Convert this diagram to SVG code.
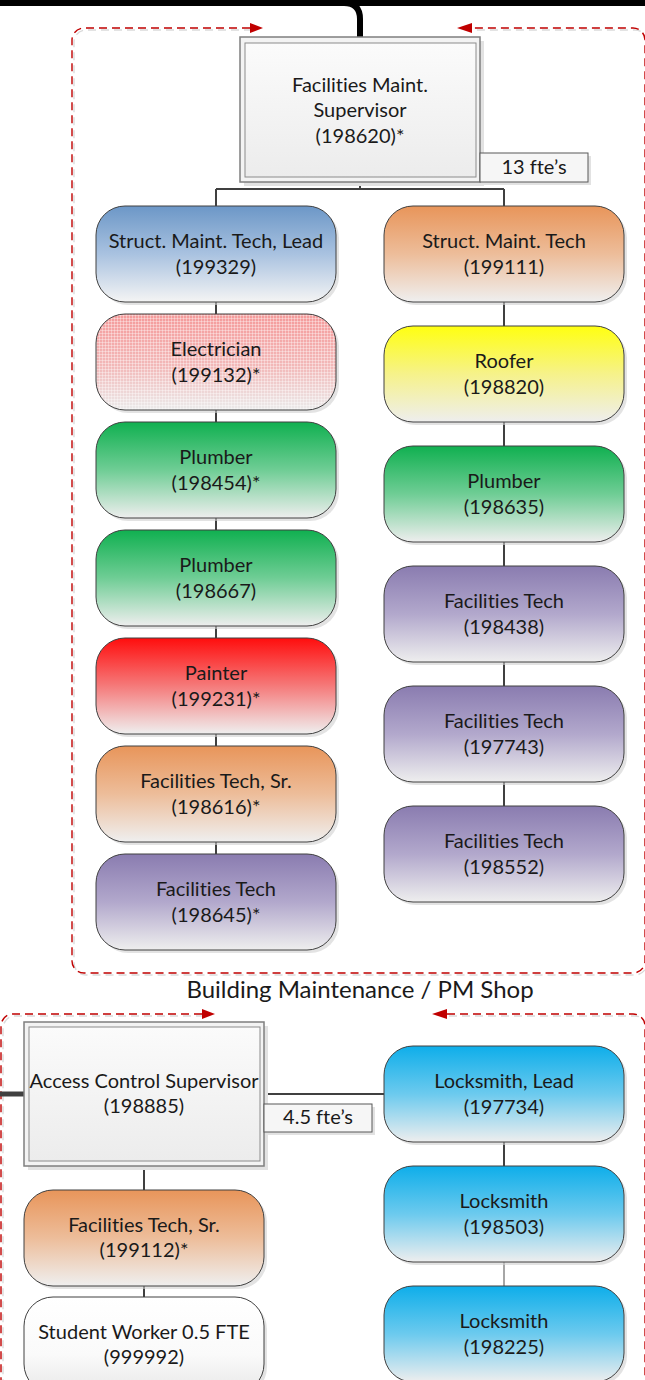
<svg xmlns="http://www.w3.org/2000/svg" width="645" height="1380" viewBox="0 0 645 1380">
  <defs>
    <linearGradient id="gBlue" x1="0" y1="0" x2="0" y2="1">
      <stop offset="0" stop-color="#6C97C7"/>
      <stop offset="0.5" stop-color="#A9C2E0"/>
      <stop offset="1" stop-color="#F4F4F4"/>
    </linearGradient>
    <linearGradient id="gPink" x1="0" y1="0" x2="0" y2="1">
      <stop offset="0" stop-color="#F59A9A"/>
      <stop offset="0.55" stop-color="#F2B9B9"/>
      <stop offset="1" stop-color="#EBEBEB"/>
    </linearGradient>
    <pattern id="pDots" width="3" height="3" patternUnits="userSpaceOnUse">
      <rect x="0" y="0" width="3" height="1" fill="#FFFFFF" fill-opacity="0.35"/>
      <rect x="0" y="0" width="1" height="3" fill="#FFFFFF" fill-opacity="0.35"/>
    </pattern>
    <linearGradient id="gGreen" x1="0" y1="0" x2="0" y2="1">
      <stop offset="0" stop-color="#10B050"/>
      <stop offset="0.5" stop-color="#6FCD95"/>
      <stop offset="1" stop-color="#EEEEEE"/>
    </linearGradient>
    <linearGradient id="gRed" x1="0" y1="0" x2="0" y2="1">
      <stop offset="0" stop-color="#FF0D0D"/>
      <stop offset="0.5" stop-color="#F57A7A"/>
      <stop offset="1" stop-color="#EFEFEF"/>
    </linearGradient>
    <linearGradient id="gOrange" x1="0" y1="0" x2="0" y2="1">
      <stop offset="0" stop-color="#E8955A"/>
      <stop offset="0.5" stop-color="#EDBD9A"/>
      <stop offset="1" stop-color="#EFEFEF"/>
    </linearGradient>
    <linearGradient id="gPurple" x1="0" y1="0" x2="0" y2="1">
      <stop offset="0" stop-color="#8A7CB0"/>
      <stop offset="0.5" stop-color="#B2A8CC"/>
      <stop offset="1" stop-color="#EEEEEE"/>
    </linearGradient>
    <linearGradient id="gYellow" x1="0" y1="0" x2="0" y2="1">
      <stop offset="0" stop-color="#FFFF10"/>
      <stop offset="0.5" stop-color="#F6F28A"/>
      <stop offset="1" stop-color="#EEEEEE"/>
    </linearGradient>
    <linearGradient id="gCyan" x1="0" y1="0" x2="0" y2="1">
      <stop offset="0" stop-color="#0EAEEA"/>
      <stop offset="0.5" stop-color="#6CCAEE"/>
      <stop offset="1" stop-color="#EEEEEE"/>
    </linearGradient>
    <linearGradient id="gWhite" x1="0" y1="0" x2="0" y2="1">
      <stop offset="0" stop-color="#FFFFFF"/>
      <stop offset="0.6" stop-color="#FAFAFA"/>
      <stop offset="1" stop-color="#E8E8E8"/>
    </linearGradient>
    <linearGradient id="gBox" x1="0" y1="0" x2="0" y2="1">
      <stop offset="0" stop-color="#FBFBFB"/>
      <stop offset="1" stop-color="#ECECEC"/>
    </linearGradient>
    <style>
      text { font-family: "Lato", "Liberation Sans", sans-serif; font-size: 20px; fill: #1A1A1A; text-anchor: middle; font-variant-ligatures: none; }
      .node { stroke: #404040; stroke-width: 1; }
      .shadow { fill: #D0D0D0; fill-opacity: 0.6; }
      .outer { fill: #F3F3F3; stroke: #7F7F7F; stroke-width: 1.5; }
      .inner { fill: url(#gBox); stroke: #8C8C8C; stroke-width: 1; }
      .tag { fill: #F6F6F6; stroke: #595959; stroke-width: 1; }
      .link { stroke: #404040; stroke-width: 2; fill: none; }
      .frame { stroke: #C00000; stroke-width: 1.4; stroke-dasharray: 8 5; fill: none; }
      .frame-shade { stroke: #DADADA; stroke-width: 1.4; stroke-dasharray: 8 5; fill: none; }
      .head { fill: #C00000; }
    </style>
  </defs>

  <!-- dashed group frames -->
  <g id="frames">
    <path class="frame-shade" transform="translate(2,2)" d="M250,28 H84 A12,12 0 0 0 72,40 V961 A12,12 0 0 0 84,973 H633 A12,12 0 0 0 645,961 V40 A12,12 0 0 0 633,28 H472"/>
    <path class="frame" d="M250,28 H84 A12,12 0 0 0 72,40 V961 A12,12 0 0 0 84,973 H633 A12,12 0 0 0 645,961 V40 A12,12 0 0 0 633,28 H472"/>
    <path class="head" d="M250,23 L263,28 L250,33 Z"/>
    <path class="head" d="M472,23 L457,28 L472,33 Z"/>

    <path class="frame-shade" transform="translate(2,2)" d="M202,1014 H13 A12,12 0 0 0 1,1026 V1380 M447,1014 H633 A12,12 0 0 1 645,1026 V1380"/>
    <path class="frame" d="M202,1014 H13 A12,12 0 0 0 1,1026 V1380 M447,1014 H633 A12,12 0 0 1 645,1026 V1380"/>
    <path class="head" d="M202,1009 L215,1014 L202,1019 Z"/>
    <path class="head" d="M447,1009 L432,1014 L447,1019 Z"/>
  </g>

  <text id="frame-label" x="360" y="998" style="font-size:24px">Building Maintenance / PM Shop</text>

  <!-- connectors -->
  <g id="connectors">
    <path d="M0,3 H645 M344,3 Q360,3 360,19 V38" stroke="#000000" stroke-width="6" fill="none"/>
    <path class="link" d="M360,182 V189 M216,189 H504 M216,189 V206 M504,189 V206"/>
    <path class="link" d="M216,302 V314 M216,410 V422 M216,518 V530 M216,626 V638 M216,734 V746 M216,842 V854"/>
    <path class="link" d="M504,302 V326 M504,422 V446 M504,542 V566 M504,662 V686 M504,782 V806"/>
    <path d="M0,1094 H24" stroke="#404040" stroke-width="5" fill="none"/>
    <path class="link" d="M264,1094 H384 M144,1166 V1190 M144,1286 V1297 M504,1142 V1166"/>
    <path d="M504,1262 V1286" stroke="#A6A6A6" stroke-width="2" fill="none"/>
  </g>

  <!-- Facilities Maint. Supervisor -->
  <g id="n-198620">
    <rect x="244" y="41" width="240" height="145" fill="#E2E2E2"/>
    <rect class="outer" x="240" y="37" width="240" height="145"/>
    <rect class="inner" x="245" y="43" width="231" height="134"/>
    <text x="360" y="91.5">Facilities Maint.</text>
    <text x="360" y="117">Supervisor</text>
    <text x="360" y="142.5">(198620)*</text>
  </g>
  <g id="fte-13">
    <rect x="483" y="156" width="108" height="29" fill="#E2E2E2"/>
    <rect class="tag" x="480" y="153" width="108" height="29"/>
    <text x="534" y="174">13 fte’s</text>
  </g>

  <!-- left column -->
  <g id="n-199329">
    <rect class="shadow" x="99" y="209" width="240" height="96" rx="29"/>
    <rect class="node" x="96" y="206" width="240" height="96" rx="29" fill="url(#gBlue)"/>
    <text x="216" y="248">Struct. Maint. Tech, Lead</text>
    <text x="216" y="274">(199329)</text>
  </g>
  <g id="n-199132">
    <rect class="shadow" x="99" y="317" width="240" height="96" rx="29"/>
    <rect x="96" y="314" width="240" height="96" rx="29" fill="url(#gPink)"/>
    <rect class="node" x="96" y="314" width="240" height="96" rx="29" fill="url(#pDots)"/>
    <text x="216" y="356">Electrician</text>
    <text x="216" y="382">(199132)*</text>
  </g>
  <g id="n-198454">
    <rect class="shadow" x="99" y="425" width="240" height="96" rx="29"/>
    <rect class="node" x="96" y="422" width="240" height="96" rx="29" fill="url(#gGreen)"/>
    <text x="216" y="464">Plumber</text>
    <text x="216" y="490">(198454)*</text>
  </g>
  <g id="n-198667">
    <rect class="shadow" x="99" y="533" width="240" height="96" rx="29"/>
    <rect class="node" x="96" y="530" width="240" height="96" rx="29" fill="url(#gGreen)"/>
    <text x="216" y="572">Plumber</text>
    <text x="216" y="598">(198667)</text>
  </g>
  <g id="n-199231">
    <rect class="shadow" x="99" y="641" width="240" height="96" rx="29"/>
    <rect class="node" x="96" y="638" width="240" height="96" rx="29" fill="url(#gRed)"/>
    <text x="216" y="680">Painter</text>
    <text x="216" y="706">(199231)*</text>
  </g>
  <g id="n-198616">
    <rect class="shadow" x="99" y="749" width="240" height="96" rx="29"/>
    <rect class="node" x="96" y="746" width="240" height="96" rx="29" fill="url(#gOrange)"/>
    <text x="216" y="788">Facilities Tech, Sr.</text>
    <text x="216" y="814">(198616)*</text>
  </g>
  <g id="n-198645">
    <rect class="shadow" x="99" y="857" width="240" height="96" rx="29"/>
    <rect class="node" x="96" y="854" width="240" height="96" rx="29" fill="url(#gPurple)"/>
    <text x="216" y="896">Facilities Tech</text>
    <text x="216" y="922">(198645)*</text>
  </g>

  <!-- right column -->
  <g id="n-199111">
    <rect class="shadow" x="387" y="209" width="240" height="96" rx="29"/>
    <rect class="node" x="384" y="206" width="240" height="96" rx="29" fill="url(#gOrange)"/>
    <text x="504" y="248">Struct. Maint. Tech</text>
    <text x="504" y="274">(199111)</text>
  </g>
  <g id="n-198820">
    <rect class="shadow" x="387" y="329" width="240" height="96" rx="29"/>
    <rect class="node" x="384" y="326" width="240" height="96" rx="29" fill="url(#gYellow)"/>
    <text x="504" y="368">Roofer</text>
    <text x="504" y="394">(198820)</text>
  </g>
  <g id="n-198635">
    <rect class="shadow" x="387" y="449" width="240" height="96" rx="29"/>
    <rect class="node" x="384" y="446" width="240" height="96" rx="29" fill="url(#gGreen)"/>
    <text x="504" y="488">Plumber</text>
    <text x="504" y="514">(198635)</text>
  </g>
  <g id="n-198438">
    <rect class="shadow" x="387" y="569" width="240" height="96" rx="29"/>
    <rect class="node" x="384" y="566" width="240" height="96" rx="29" fill="url(#gPurple)"/>
    <text x="504" y="608">Facilities Tech</text>
    <text x="504" y="634">(198438)</text>
  </g>
  <g id="n-197743">
    <rect class="shadow" x="387" y="689" width="240" height="96" rx="29"/>
    <rect class="node" x="384" y="686" width="240" height="96" rx="29" fill="url(#gPurple)"/>
    <text x="504" y="728">Facilities Tech</text>
    <text x="504" y="754">(197743)</text>
  </g>
  <g id="n-198552">
    <rect class="shadow" x="387" y="809" width="240" height="96" rx="29"/>
    <rect class="node" x="384" y="806" width="240" height="96" rx="29" fill="url(#gPurple)"/>
    <text x="504" y="848">Facilities Tech</text>
    <text x="504" y="874">(198552)</text>
  </g>

  <!-- Access Control Supervisor -->
  <g id="n-198885">
    <rect x="28" y="1026" width="240" height="144" fill="#E2E2E2"/>
    <rect class="outer" x="24" y="1022" width="240" height="144"/>
    <rect class="inner" x="29" y="1027" width="231" height="134"/>
    <text x="144" y="1088">Access Control Supervisor</text>
    <text x="144" y="1113">(198885)</text>
  </g>
  <g id="fte-4-5">
    <rect x="267" y="1107" width="108" height="28" fill="#E2E2E2"/>
    <rect class="tag" x="264" y="1104" width="108" height="28"/>
    <text x="318" y="1124">4.5 fte’s</text>
  </g>

  <g id="n-199112">
    <rect class="shadow" x="27" y="1193" width="240" height="96" rx="29"/>
    <rect class="node" x="24" y="1190" width="240" height="96" rx="29" fill="url(#gOrange)"/>
    <text x="144" y="1232">Facilities Tech, Sr.</text>
    <text x="144" y="1257">(199112)*</text>
  </g>
  <g id="n-999992">
    <rect class="shadow" x="27" y="1300" width="240" height="96" rx="29"/>
    <rect class="node" x="24" y="1297" width="240" height="96" rx="29" fill="url(#gWhite)"/>
    <text x="144" y="1339">Student Worker 0.5 FTE</text>
    <text x="144" y="1364">(999992)</text>
  </g>

  <g id="n-197734">
    <rect class="shadow" x="387" y="1049" width="240" height="96" rx="29"/>
    <rect class="node" x="384" y="1046" width="240" height="96" rx="29" fill="url(#gCyan)"/>
    <text x="504" y="1088">Locksmith, Lead</text>
    <text x="504" y="1114">(197734)</text>
  </g>
  <g id="n-198503">
    <rect class="shadow" x="387" y="1169" width="240" height="96" rx="29"/>
    <rect class="node" x="384" y="1166" width="240" height="96" rx="29" fill="url(#gCyan)"/>
    <text x="504" y="1208">Locksmith</text>
    <text x="504" y="1234">(198503)</text>
  </g>
  <g id="n-198225">
    <rect class="shadow" x="387" y="1289" width="240" height="96" rx="29"/>
    <rect class="node" x="384" y="1286" width="240" height="96" rx="29" fill="url(#gCyan)"/>
    <text x="504" y="1328">Locksmith</text>
    <text x="504" y="1354">(198225)</text>
  </g>
</svg>
